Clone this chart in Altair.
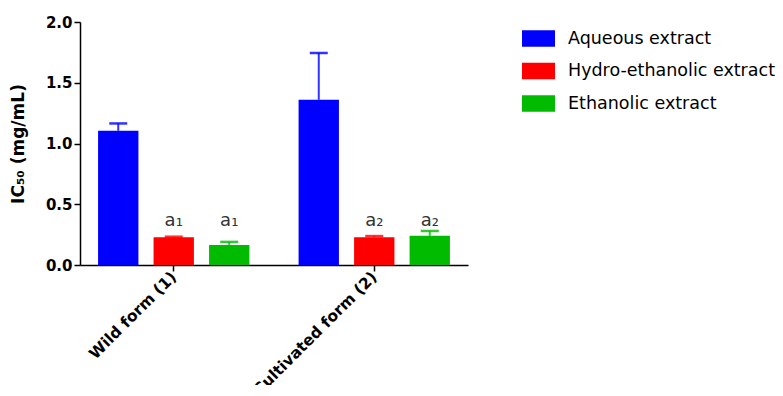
import altair as alt
import pandas as pd

forms = ["Wild form (1)", "Cultivated form (2)"]
extracts = ["Aqueous extract", "Hydro-ethanolic extract", "Ethanolic extract"]
err_keys = ["err-aqueous", "err-hydro", "err-ethanolic"]
colors = ["#0000FF", "#FF0000", "#00BB00"]

wild_vals = [1.105, 0.228, 0.165]
wild_err = [0.06, 0.005, 0.025]
wild_letters = ["", "a₁", "a₁"]

cult_vals = [1.36, 0.228, 0.24]
cult_err = [0.385, 0.01, 0.04]
cult_letters = ["", "a₂", "a₂"]

rows = []
for f, vals, errs, lets in [(forms[0], wild_vals, wild_err, wild_letters),
                            (forms[1], cult_vals, cult_err, cult_letters)]:
    for e, k, v, er, l in zip(extracts, err_keys, vals, errs, lets):
        rows.append({"form": f, "extract": e, "ext_err": k, "value": v, "upper": v + er,
                     "label": l, "labely": 0.32})
df = pd.DataFrame(rows)

FONT = "DejaVu Sans"

x = alt.X("form:N", sort=forms, title=None,
          scale=alt.Scale(paddingInner=0.17, paddingOuter=0.0525),
          axis=alt.Axis(labelAngle=-45, labelAlign="right", labelBaseline="middle",
                        labelFont=FONT, labelFontSize=15.5, labelFontWeight="bold",
                        labelColor="black", domainColor="black", domainWidth=1.5,
                        tickColor="black", tickWidth=1.5, tickSize=6, labelPadding=3))
xo = alt.XOffset("extract:N", sort=extracts,
                 scale=alt.Scale(paddingInner=0.273, paddingOuter=0.136))
yscale = alt.Scale(domain=[0, 2], nice=False)

bars = alt.Chart(df).mark_bar().encode(
    x=x, xOffset=xo,
    y=alt.Y("value:Q", scale=yscale, title="IC₅₀ (mg/mL)",
            axis=alt.Axis(values=[0, 0.5, 1.0, 1.5, 2.0], format=".1f", grid=False,
                          labelFont=FONT, labelFontSize=15, labelFontWeight="bold",
                          labelColor="black", titleFont=FONT, titleFontSize=17,
                          titleFontWeight="bold", titleColor="black", titlePadding=18,
                          domainColor="black", domainWidth=1.5, tickColor="black",
                          tickWidth=1.5, tickSize=6)),
    color=alt.Color("extract:N", sort=extracts,
                    scale=alt.Scale(domain=extracts, range=colors),
                    legend=alt.Legend(title=None, orient="none", legendX=442, legendY=0,
                                      symbolType="M-1,-0.5H1V0.5H-1Z", symbolSize=1089,
                                      symbolStrokeWidth=0, symbolOpacity=1,
                                      labelFont=FONT, labelFontSize=17.5, labelColor="black",
                                      labelOffset=13, labelLimit=0, rowPadding=7.5)),
)

errscale = alt.Scale(domain=err_keys, range=colors)

rule = alt.Chart(df).mark_rule(strokeWidth=2, opacity=0.8).encode(
    x=x, xOffset=xo,
    y=alt.Y("value:Q", scale=yscale),
    y2="upper:Q",
    stroke=alt.Stroke("ext_err:N", scale=errscale, legend=None),
)

cap = alt.Chart(df).mark_tick(size=18, thickness=2.5, opacity=0.8).encode(
    x=x, xOffset=xo,
    y=alt.Y("upper:Q", scale=yscale),
    fill=alt.Fill("ext_err:N", scale=errscale, legend=None),
)

text = alt.Chart(df).mark_text(font=FONT, fontSize=18, color="#333333",
                               baseline="alphabetic", align="center").encode(
    x=x, xOffset=xo,
    y=alt.Y("labely:Q", scale=yscale),
    text="label:N",
)

chart = alt.layer(rule, cap, bars, text).properties(
    width=388, height=243,
    background="white",
    autosize=alt.AutoSizeParams(type="none"),
    padding={"left": 72, "top": 14, "right": 307, "bottom": 120},
).configure_view(stroke=None)

chart.save("out.html", embed_options={"renderer": "svg", "actions": False})
